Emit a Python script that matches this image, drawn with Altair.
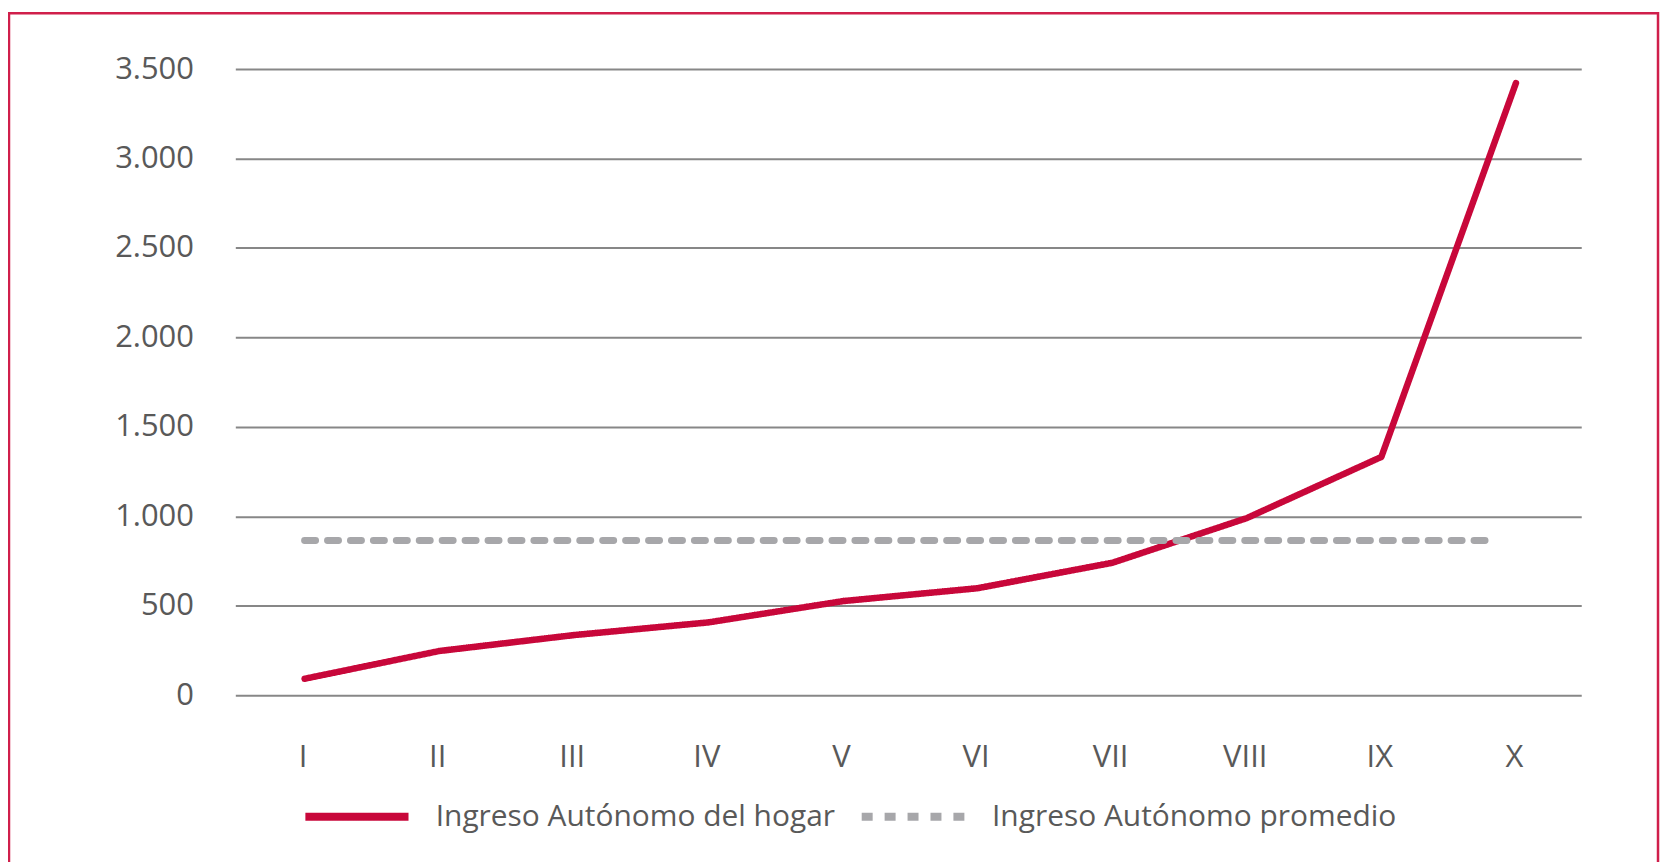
import altair as alt
import pandas as pd

# Data
deciles = ["I", "II", "III", "IV", "V", "VI", "VII", "VIII", "IX", "X"]
ingreso_hogar = [92, 247, 336, 407, 526, 598, 740, 990, 1332, 3422]
ingreso_promedio = 865
serie_hogar = "Ingreso Autónomo del hogar"
serie_prom = "Ingreso Autónomo promedio"
y_ticks = [0, 500, 1000, 1500, 2000, 2500, 3000, 3500]

RED = "#C8073A"
GRAY_DASH = "#A7A7AA"
TEXT = "#595959"
FONT = "Open Sans"

df_line = pd.DataFrame({"decil": deciles, "valor": ingreso_hogar, "serie": [serie_hogar] * len(deciles)})
df_avg = pd.DataFrame({"x1": [deciles[0]], "x2": [deciles[-1]], "valor": [ingreso_promedio], "serie": [serie_prom]})
df_frame = pd.DataFrame({"k": [0]})

W, H = 1350, 628

xscale = alt.Scale(type="point", domain=deciles, padding=0.5)
yscale = alt.Scale(domain=[0, 3500], nice=False)
color_scale = alt.Scale(domain=[serie_hogar, serie_prom], range=[RED, GRAY_DASH])
dash_scale = alt.Scale(domain=[serie_hogar, serie_prom], range=[[1, 0], [11, 12]])

legend = alt.Legend(
    title=None,
    orient="none",
    direction="horizontal",
    legendX=66,
    legendY=694,
    padding=0,
    symbolType="stroke",
    symbolSize=10700,
    symbolStrokeWidth=8,
    labelFont=FONT,
    labelFontSize=30,
    labelColor=TEXT,
    labelOffset=23,
    labelLimit=0,
    columnPadding=10,
)

line = alt.Chart(df_line).mark_line(strokeWidth=6.5, strokeCap="round", strokeJoin="round", xOffset=2).encode(
    x=alt.X("decil:O", scale=xscale, sort=deciles,
            axis=alt.Axis(title=None, labelAngle=0, ticks=False, domain=False, grid=False,
                          labelFont=FONT, labelFontSize=31, labelColor=TEXT, labelPadding=48)),
    y=alt.Y("valor:Q", scale=yscale,
            axis=alt.Axis(title=None, values=y_ticks, ticks=False, tickSize=0, domain=False,
                          grid=True, gridColor="#878787", gridWidth=2,
                          labelFont=FONT, labelFontSize=31, labelColor=TEXT, labelPadding=42,
                          labelExpr="replace(format(datum.value, ','), ',', '.')")),
    color=alt.Color("serie:N", scale=color_scale, legend=legend),
    strokeDash=alt.StrokeDash("serie:N", scale=dash_scale, legend=legend),
)

avg = alt.Chart(df_avg).mark_rule(strokeWidth=7, strokeCap="round", xOffset=2, x2Offset=-28).encode(
    x=alt.X("x1:O", scale=xscale),
    x2="x2",
    y=alt.Y("valor:Q", scale=yscale),
    color=alt.Color("serie:N", scale=color_scale, legend=legend),
    strokeDash=alt.StrokeDash("serie:N", scale=dash_scale, legend=legend),
)

frame = alt.Chart(df_frame).mark_rect(fill=None, stroke="#D01F4B", strokeWidth=2.5).encode(
    x=alt.value(-227),
    x2=alt.value(1427),
    y=alt.value(-56),
    y2=alt.value(900),
)

chart = alt.layer(line, avg, frame).properties(
    width=W,
    height=H,
    autosize=alt.AutoSizeParams(type="none"),
    padding={"left": 228, "top": 60, "right": 80, "bottom": 166},
    background="white",
).configure_view(stroke=None)

chart.save("out.html", embed_options={"renderer": "svg", "actions": False})
